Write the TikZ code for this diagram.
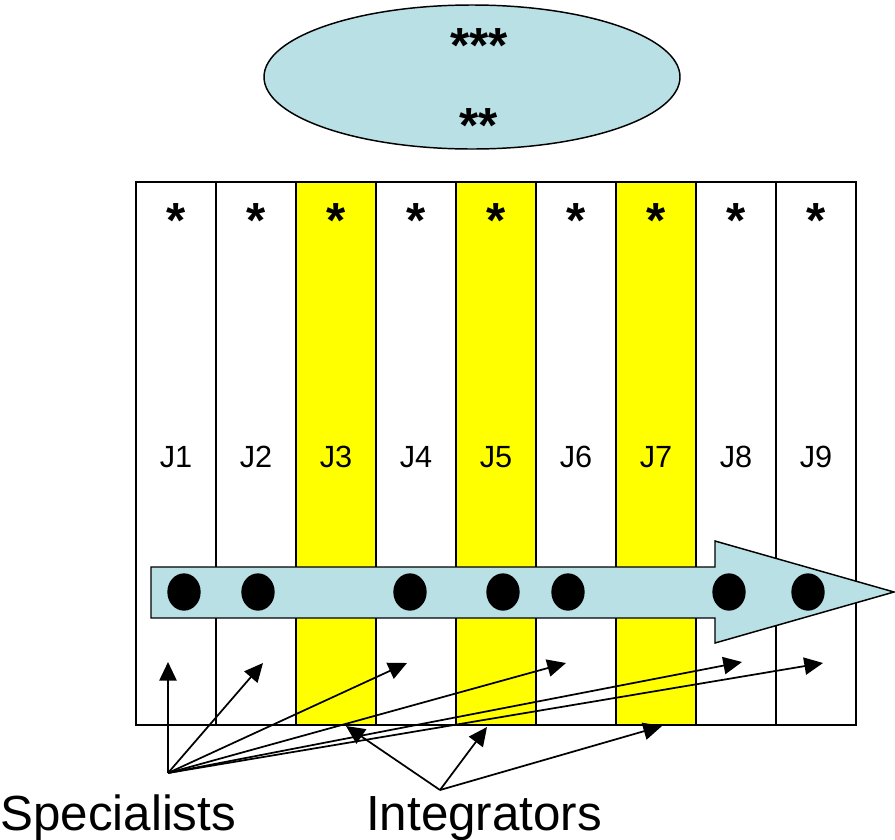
\documentclass[tikz,border=0pt]{standalone}
\usepackage{fontspec}
\setmainfont{Liberation Sans}
\usetikzlibrary{arrows.meta,shapes.geometric}
\definecolor{paleblue}{RGB}{185,224,228}
\definecolor{hilite}{RGB}{255,255,0}

\begin{document}
\begin{tikzpicture}[x=0.75pt,y=-0.75pt,
  frame/.style={draw,line width=1.4pt},
  ptr/.style={-{Triangle[length=14pt,width=13pt]},line width=1.3pt},
  small/.style={font=\fontsize{23}{23}\selectfont,inner sep=0pt,anchor=base},
  big/.style={font=\fontsize{37}{37}\selectfont,inner sep=0pt,anchor=base},
  job/.style={ellipse,fill=black,inner sep=0pt,minimum width=25pt,minimum height=28pt}]
\useasboundingbox (0,0) rectangle (895,839);

% cloud on top
\draw[fill=paleblue,line width=1.1pt] (472,77) ellipse (208 and 72);
\node[big,font=\fontsize{37}{37}\bfseries] (s3) at (479,62) {***};
\node[big,font=\fontsize{37}{37}\bfseries] (s2) at (479,142) {**};

% job columns, every 80 px
\foreach \x in {296,456,616} \fill[hilite] (\x,182) rectangle ++(80,543);
\foreach \i in {1,...,9} {
  \draw[frame] ({136+80*(\i-1)},182) rectangle ++(80,543);
  \node[big,font=\fontsize{37}{37}\bfseries] (star\i) at ({176+80*(\i-1)},237) {*};
  \node[small] (j\i) at ({176+80*(\i-1)},467) {J\i};
}

% flow arrow
\draw[fill=paleblue,line width=1.1pt] (151,567) -- (715,567) -- (715,541) -- (894,592)
  -- (715,643) -- (715,618) -- (151,618) -- cycle;
\node[job] (d1) at (184,592) {};
\node[job] (d2) at (258,592) {};
\node[job] (d3) at (410,592) {};
\node[job] (d4) at (503,592) {};
\node[job] (d5) at (568,592) {};
\node[job] (d6) at (729,592) {};
\node[job] (d7) at (808,592) {};

% pointers from the two groups
\node[big,anchor=base west] (spec) at (0,830) {Specialists};
\node[big,anchor=base west] (integ) at (366,830) {Integrators};
\coordinate (sp) at (168,773);
\coordinate (ig) at (440,790);
\coordinate (a1) at (168,662);
\coordinate (a2) at (263,663);
\coordinate (a3) at (407,663);
\coordinate (a4) at (566,663);
\coordinate (a5) at (742,662);
\coordinate (a6) at (823,663);
\coordinate (b1) at (346,726);
\coordinate (b2) at (487,727);
\coordinate (b3) at (662,726);
\foreach \t in {a1,a2,a3,a4,a5,a6} \draw[ptr] (sp) -- (\t);
\foreach \t in {b1,b2,b3} \draw[ptr] (ig) -- (\t);
\end{tikzpicture}
\end{document}
